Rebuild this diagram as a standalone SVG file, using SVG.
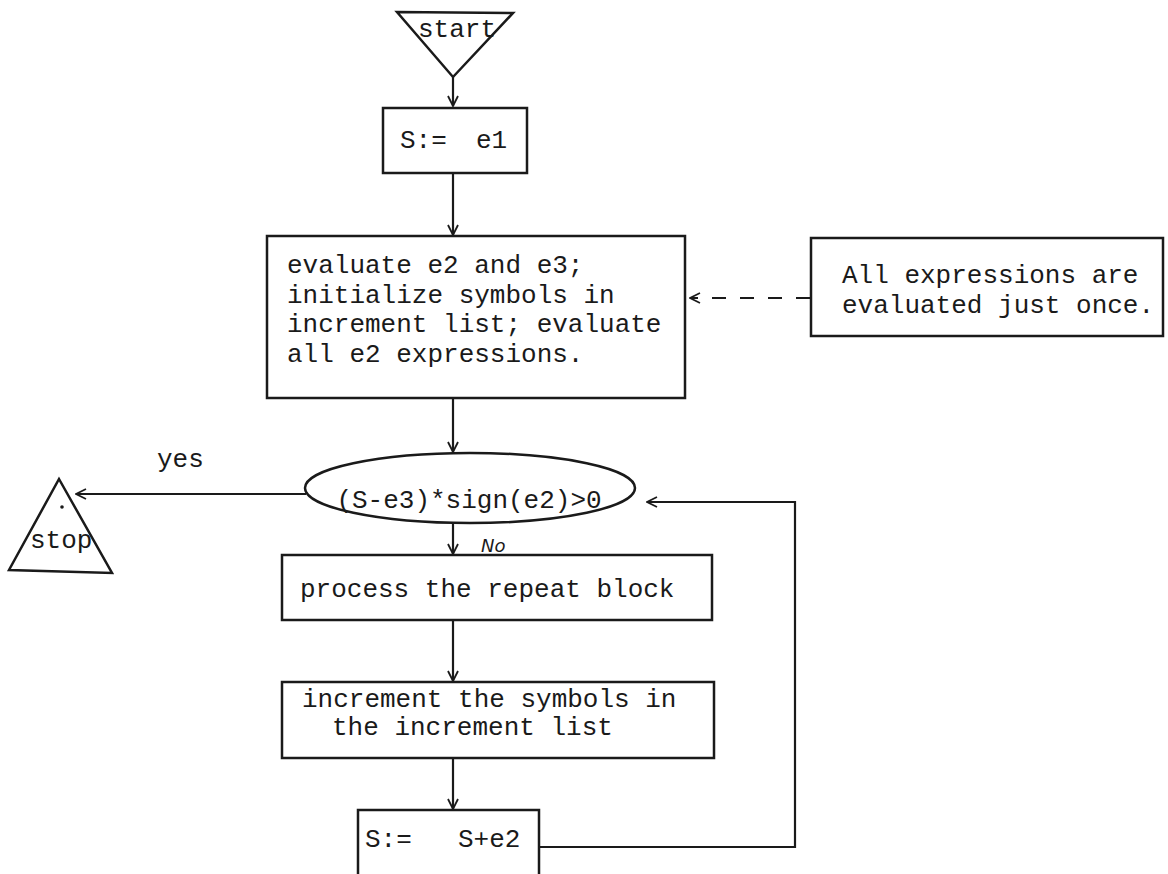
<svg xmlns="http://www.w3.org/2000/svg" width="1168" height="874" viewBox="0 0 1168 874">
<style>
.box{fill:#fff;stroke:#1a1a1a;stroke-width:2.5}
.t{font-family:"Liberation Mono","DejaVu Sans Mono",monospace;font-size:26px;fill:#1a1a1a}
.c{fill:none;stroke:#1a1a1a;stroke-width:2.2}
.hand{font-family:"DejaVu Sans","Liberation Sans",sans-serif;font-style:italic;font-size:18px;fill:#1a1a1a}
</style>
<defs>
<marker id="ah" viewBox="0 0 12 12" refX="11" refY="6" markerWidth="12" markerHeight="12" markerUnits="userSpaceOnUse" orient="auto">
<path d="M1,1 L11,6 L1,11" fill="none" stroke="#1a1a1a" stroke-width="1.8"/>
</marker>
</defs>
<rect width="1168" height="874" fill="#fff"/>
<g id="connectors">
<line class="c" x1="453" y1="77" x2="453" y2="106" marker-end="url(#ah)"/>
<line class="c" x1="453" y1="173" x2="453" y2="235" marker-end="url(#ah)"/>
<line class="c" x1="810" y1="298" x2="690" y2="298" stroke-dasharray="14,14" marker-end="url(#ah)"/>
<line class="c" x1="453" y1="398" x2="453" y2="452" marker-end="url(#ah)"/>
<line class="c" x1="306" y1="494" x2="76" y2="494" marker-end="url(#ah)"/>
<line class="c" x1="453" y1="522" x2="453" y2="554" marker-end="url(#ah)"/>
<line class="c" x1="453" y1="620" x2="453" y2="681" marker-end="url(#ah)"/>
<line class="c" x1="453" y1="758" x2="453" y2="809" marker-end="url(#ah)"/>
<polyline class="c" points="539,847 795,847 795,502 647,502" marker-end="url(#ah)"/>
<text class="t" x="157" y="467" font-size="24">yes</text>
<text class="hand" x="481" y="552">No</text>
</g>
<g id="start">
<polygon class="box" points="397,12 513,13 453,77"/>
<text class="t" x="418" y="37" font-size="24">start</text>
</g>
<g id="init">
<rect class="box" x="383" y="108" width="144" height="65"/>
<text class="t" x="400" y="148">S:=</text>
<text class="t" x="476" y="148">e1</text>
</g>
<g id="evaluate">
<rect class="box" x="267" y="236" width="418" height="162"/>
<text class="t" x="287" y="273">evaluate e2 and e3;</text>
<text class="t" x="287" y="303">initialize symbols in</text>
<text class="t" x="287" y="332">increment list; evaluate</text>
<text class="t" x="287" y="362">all e2 expressions.</text>
</g>
<g id="note">
<rect class="box" x="811" y="238" width="352" height="98"/>
<text class="t" x="842" y="283">All expressions are</text>
<text class="t" x="842" y="313">evaluated just once.</text>
</g>
<g id="decision">
<ellipse class="box" cx="470" cy="488" rx="165" ry="35" stroke-width="3"/>
<text class="t" x="469" y="508" text-anchor="middle">(S-e3)*sign(e2)&gt;0</text>
</g>
<g id="stop">
<polygon class="box" points="59,479 112,573 9,570"/>
<circle cx="62" cy="507" r="1.8" fill="#1a1a1a"/>
<text class="t" x="30" y="548">stop</text>
</g>
<g id="process">
<rect class="box" x="282" y="555" width="430" height="65"/>
<text class="t" x="300" y="597">process the repeat block</text>
</g>
<g id="increment">
<rect class="box" x="282" y="682" width="432" height="76"/>
<text class="t" x="302" y="707">increment the symbols in</text>
<text class="t" x="332" y="735">the increment list</text>
</g>
<g id="update">
<rect class="box" x="358" y="810" width="181" height="70"/>
<text class="t" x="365" y="847">S:=</text>
<text class="t" x="458" y="847">S+e2</text>
</g>
</svg>
